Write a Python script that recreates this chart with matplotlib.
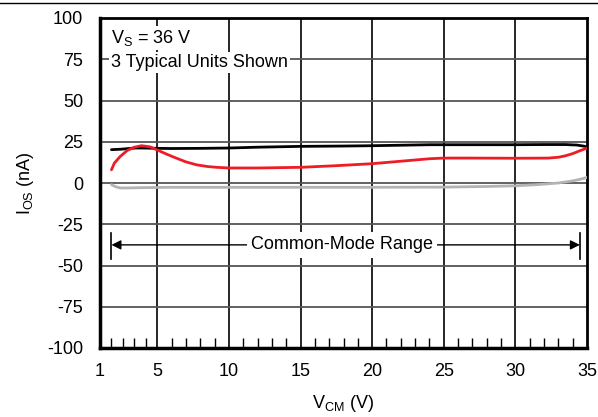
import numpy as np
import matplotlib
matplotlib.use('Agg')
import matplotlib.pyplot as plt
from matplotlib.lines import Line2D

plt.rcParams['font.family'] = ['Liberation Sans', 'DejaVu Sans']
plt.rcParams['mathtext.default'] = 'regular'
plt.rcParams['axes.unicode_minus'] = False

# 读取图中数值 (V_CM 单位 V, I_OS 单位 nA)
black_v = [1.8, 2.5, 3.0, 3.5, 4.0, 5.0, 6.0, 8.0, 10.0, 12.0, 15.0, 18.0, 20.0,
           22.0, 24.0, 26.0, 28.0, 30.0, 32.0, 33.5, 34.3, 34.8, 35.0]
black_i = [20.2, 20.5, 20.9, 21.2, 21.2, 21.0, 20.9, 21.0, 21.2, 21.7, 22.2, 22.4, 22.6,
           22.9, 23.2, 23.2, 23.2, 23.2, 23.3, 23.3, 23.0, 22.3, 21.8]

red_v = [1.8, 2.0, 2.4, 2.9, 3.4, 3.9, 4.5, 5.0, 5.7, 6.35, 7.0, 7.75, 8.5, 9.15, 10.0,
         12.0, 15.0, 17.5, 20.0, 22.0, 24.0, 25.0, 27.0, 30.0, 32.3, 33.0, 33.5, 34.0,
         34.4, 34.8, 35.0]
red_i = [8.0, 12.0, 16.0, 19.7, 21.7, 22.6, 21.9, 20.0, 17.3, 15.0, 12.8, 11.0, 10.0, 9.5, 9.1,
         9.1, 9.5, 10.5, 11.7, 13.2, 14.7, 15.1, 15.1, 15.0, 15.1, 15.6, 16.5, 17.8,
         19.2, 20.5, 21.2]

gray_v = [1.8, 2.1, 2.4, 3.0, 4.0, 6.0, 10.0, 15.0, 20.0, 25.0, 28.0, 30.0, 31.5,
          33.0, 34.0, 34.5, 35.0]
gray_i = [-1.0, -2.3, -3.0, -3.0, -2.8, -2.6, -2.6, -2.6, -2.6, -2.5, -2.1, -1.7, -1.0,
          0.0, 1.3, 2.2, 3.4]

x_ticks = [1, 5, 10, 15, 20, 25, 30, 35]
y_ticks = [-100, -75, -50, -25, 0, 25, 50, 75, 100]
x_minor = [1.8, 2.6, 3.4, 4.2] + [v for v in range(6, 35) if v % 5 != 0]

fig = plt.figure(figsize=(5.98, 4.17), dpi=100)
ax = fig.add_axes([100 / 598, 1 - 348 / 417, 487 / 598, 330 / 417])

ax.set_xlim(1, 35)
ax.set_ylim(-100, 100)

# 网格线
for v in x_ticks[1:-1]:
    ax.axvline(v, color='#151515', lw=1.3, zorder=1)
for y in y_ticks[1:-1]:
    ax.axhline(y, color='#555555', lw=1.3, zorder=1)

ax.plot(gray_v, gray_i, color='#b3b3b3', lw=2.0, solid_capstyle='round', zorder=3)
ax.plot(black_v, black_i, color='black', lw=2.0, solid_capstyle='round', zorder=4)
ax.plot(red_v, red_i, color='#ee1c25', lw=2.0, solid_capstyle='round', zorder=5)

ax.set_xticks(x_ticks)
ax.set_yticks(y_ticks)
ax.set_xticks(x_minor, minor=True)
ax.tick_params(axis='both', which='major', length=0, labelsize=13, pad=12)
ax.tick_params(axis='x', which='major', pad=11)
ax.tick_params(axis='x', which='minor', direction='in', length=7, width=1.0, color='black')

for side in ['left', 'bottom']:
    ax.spines[side].set_linewidth(2.5)
for side in ['top', 'right']:
    ax.spines[side].set_linewidth(2.0)

ax.set_xlabel('V$_{CM}$ (V)', fontsize=13, labelpad=9)
ax.set_ylabel('I$_{OS}$ (nA)', fontsize=13, labelpad=8)

# 文字说明
box = dict(facecolor='white', edgecolor='none', pad=1.5)
ax.text(1.75, 88, 'V$_S$ = 36 V', fontsize=13, va='center', ha='left', bbox=box, zorder=6)
ax.text(1.75, 73, '3 Typical Units Shown', fontsize=13, va='center', ha='left', bbox=box, zorder=6)

# 共模范围标注
ax.annotate('', xy=(1.8, -37.5), xytext=(34.5, -37.5),
            arrowprops=dict(arrowstyle='<|-|>', color='black', lw=1.0,
                            mutation_scale=14, shrinkA=0, shrinkB=0), zorder=6)
ax.plot([1.8, 1.8], [-30, -46], color='black', lw=1.2, zorder=6)
ax.plot([34.5, 34.5], [-30, -46], color='black', lw=1.2, zorder=6)
ax.text(17.9, -37.5, 'Common-Mode Range', fontsize=13, va='center', ha='center',
        bbox=dict(facecolor='white', edgecolor='none', pad=3), zorder=7)

fig.add_artist(Line2D([0, 1], [1 - 3.3 / 417] * 2, color='black', lw=1.0))

fig.savefig('out.png', dpi=100)
